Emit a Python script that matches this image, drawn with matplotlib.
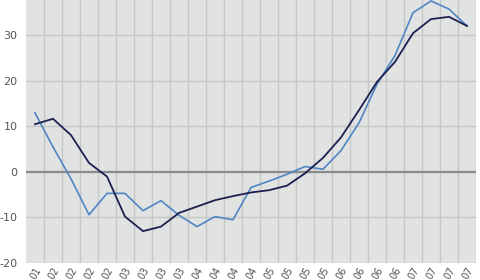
import numpy as np
import matplotlib
matplotlib.use('Agg')
import matplotlib.pyplot as plt

plt.rcParams['axes.unicode_minus'] = False

# quarterly labels (year only shown)
labels = ['01', '02', '02', '02', '02', '03', '03', '03', '03',
          '04', '04', '04', '04', '05', '05', '05', '05',
          '06', '06', '06', '06', '07', '07', '07', '07']

light = [13.0, 5.5, -1.5, -9.4, -4.7, -4.7, -8.5, -6.3, -9.5, -12.0,
         -9.8, -10.5, -3.4, -2.0, -0.5, 1.2, 0.6, 4.7, 10.8, 19.3,
         25.6, 35.0, 37.6, 35.8, 32.1]
dark = [10.5, 11.7, 8.1, 2.0, -1.0, -9.8, -13.0, -12.0, -9.0, -7.6,
        -6.2, -5.3, -4.5, -4.0, -3.0, -0.3, 3.1, 7.6, 13.6, 19.8,
        24.2, 30.5, 33.6, 34.1, 32.1]
yticks = [-20, -10, 0, 10, 20, 30]

x = np.arange(len(labels))

fig = plt.figure(figsize=(4.8, 2.8), dpi=100)
ax = fig.add_axes([26/480, 1 - 263/280, 450/480, 263/280])
ax.set_facecolor('#e1e2e2')

ax.set_xlim(-0.5, len(labels) - 0.5)
ax.set_ylim(-20, 37.8)

# grid at category boundaries
ax.set_xticks(x + 0.5, minor=True)
ax.grid(True, which='minor', axis='x', color='#c6c7c7', lw=1.0)
ax.set_yticks(yticks)
ax.grid(True, which='major', axis='y', color='#c6c7c7', lw=1.0)
ax.set_axisbelow(True)
ax.axhline(0, color='#8a8b8b', lw=1.6, zorder=1.5)

ax.plot(x, light, color='#4f86c4', lw=1.2, zorder=3)
ax.plot(x, dark, color='#1c2050', lw=1.3, zorder=3)

ax.set_xticks(x)
ax.set_xticklabels(labels, rotation=60, ha='right', va='top',
                   rotation_mode='anchor')
ax.tick_params(axis='x', which='both', length=0, pad=2, labelsize=7,
               labelcolor='#555555')
ax.tick_params(axis='y', length=0, pad=6, labelsize=8,
               labelcolor='#555555')

for s in ax.spines.values():
    s.set_visible(False)

fig.savefig('out.png', dpi=100)
